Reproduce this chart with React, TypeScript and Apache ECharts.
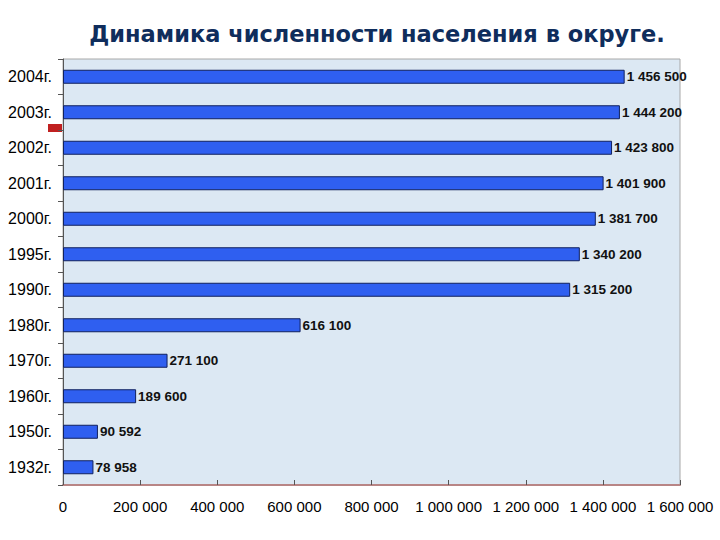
import React, { useEffect, useRef } from "react";
import * as echarts from "echarts";

const categories = ["1932г.", "1950г.", "1960г.", "1970г.", "1980г.", "1990г.", "1995г.", "2000г.", "2001г.", "2002г.", "2003г.", "2004г."];
const population = [78958, 90592, 189600, 271100, 616100, 1315200, 1340200, 1381700, 1401900, 1423800, 1444200, 1456500];
const titleText = "Динамика численности населения в округе.";

const fmt = (v: number) => String(v).replace(/\B(?=(\d{3})+(?!\d))/g, " ");

export default function App() {
  const ref = useRef<HTMLDivElement>(null);
  useEffect(() => {
    if (!ref.current) return;
    const chart = echarts.init(ref.current, undefined, { renderer: "svg" });
    chart.setOption({
      animation: false,
      backgroundColor: "#ffffff",
      title: {
        text: titleText,
        left: 372,
        textAlign: "center",
        top: 17,
        textStyle: { fontFamily: "DejaVu Sans", fontWeight: "bold", fontSize: 22.5, color: "#0f2d5c" },
      },
      grid: {
        left: 63,
        right: 40,
        top: 59,
        bottom: 55,
        show: true,
        backgroundColor: "#dce8f3",
        borderColor: "#a8a8a8",
        borderWidth: 1,
      },
      xAxis: {
        type: "value",
        min: 0,
        max: 1600000,
        interval: 200000,
        axisLine: { show: true, lineStyle: { color: "#b88585", width: 2 } },
        axisTick: { show: true, inside: true, length: 5, lineStyle: { color: "#555" } },
        splitLine: { show: false },
        axisLabel: {
          formatter: (v: number) => fmt(v),
          fontFamily: "Liberation Sans",
          fontSize: 15,
          color: "#000",
          margin: 14,
        },
      },
      yAxis: {
        type: "category",
        data: categories,
        axisLine: { show: true, lineStyle: { color: "#555", width: 1 } },
        axisTick: { show: true, length: 5, lineStyle: { color: "#555" } },
        axisLabel: { fontFamily: "Liberation Sans", fontSize: 16, color: "#000", margin: 11 },
      },
      series: [
        {
          type: "bar",
          data: population,
          barWidth: 14,
          itemStyle: { color: "#2f5ff0", borderColor: "#10215e", borderWidth: 1 },
          label: {
            show: true,
            position: "right",
            distance: 2,
            formatter: (p: any) => fmt(p.value),
            fontFamily: "Liberation Sans",
            fontSize: 13.5,
            fontWeight: "bold",
            color: "#111",
          },
        },
      ],
      graphic: [
        { type: "rect", shape: { x: 48, y: 124, width: 14, height: 8 }, style: { fill: "#c02020" } },
      ],
    });
    return () => chart.dispose();
  }, []);
  return <div ref={ref} style={{ position: "fixed", left: 0, top: 0, width: 720, height: 540 }} />;
}
